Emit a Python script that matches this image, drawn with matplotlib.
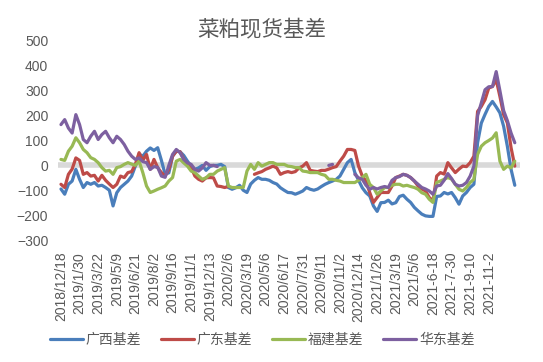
import numpy as np
import matplotlib
matplotlib.use("Agg")
import matplotlib.pyplot as plt

plt.rcParams['font.family'] = ['Liberation Sans', 'Noto Sans CJK SC']

nan = np.nan

# tick labels (one every 5 points)
tick_labels = ["2018/12/18", "2019/1/30", "2019/3/22", "2019/5/9", "2019/6/21",
               "2019/8/2", "2019/9/16", "2019/11/1", "2019/12/13", "2020/2/6",
               "2020/3/19", "2020/5/6", "2020/6/17", "2020/7/31", "2020/9/11",
               "2020/11/2", "2020/12/14", "2021/1/26", "2021/3/19", "2021/5/6",
               "2021-6-18", "2021-7-30", "2021-9-10", "2021-11-2"]

guangxi = [-95, -116, -76, -63, -16, -56, -89, -69, -76, -69,
           -83, -80, -89, -100, -163, -110, -89, -76, -63, -43,
           -3, 45, 37, 57, 70, 60, 71, 20, -36, -30,
           37, 57, 55, 40, 17, -3, -16, -10, 0, -20,
           -5, 0, 0, 4, -5, -89, -96, -90, -80, -100,
           -109, -75, -60, -49, -56, -56, -60, -69, -75, -90,
           -100, -109, -110, -116, -110, -103, -89, -96, -100, -95,
           -85, -76, -69, -63, -56, -43, -16, 11, 24, -29,
           -60, -90, -110, -123, -163, -185, -150, -149, -140, -155,
           -150, -125, -120, -136, -149, -169, -183, -196, -203, -205,
           -205, -125, -123, -109, -115, -109, -130, -156, -123, -109,
           -89, -76, 91, 170, 205, 237, 257, 235, 211, 157,
           77, -16, -80]

guangdong = [-76, -89, -36, -15, 30, 20, -36, -29, -43, -40,
             -63, -40, -60, -75, -89, -76, -43, -49, -29, -25,
             4, 51, 20, 44, -16, 24, -9, -29, -43, -16,
             37, 57, 55, 25, 0, -9, -43, -56, -63, -50,
             -49, -50, -83, -85, -89, -85, nan, nan, nan, nan,
             nan, nan, -36, -30, -25, -16, -10, -3, -10, -36,
             -29, -25, -29, -25, -10, -3, 11, -20, -23, -25,
             -20, -20, -15, -9, -5, 17, 37, 64, 64, 60,
             -3, -43, -63, -109, -149, -129, -109, -109, -109, -83,
             -49, -43, -36, -40, -49, -63, -83, -95, -103, -129,
             -143, -43, -29, -35, 11, -10, -29, -15, -3, -5,
             11, 37, 217, 237, 264, 311, 317, 344, 277, 204,
             171, 71, -3]

fujian = [24, 20, 57, 77, 111, 91, 64, 51, 31, 24,
          11, -9, -23, -20, -36, -9, -5, 4, 11, 5,
          0, 17, -29, -83, -109, -103, -96, -90, -83, -63,
          -49, 17, 24, 10, -3, -23, -29, -43, -56, -50,
          -36, -36, -23, -16, -9, -83, -89, -89, -89, -89,
          -23, 4, -16, 11, -3, 4, 11, 11, 4, 4,
          4, -3, -5, -9, -9, -23, -25, -29, -29, -29,
          -36, -40, -56, -56, -60, -63, -69, -69, -69, -69,
          -60, -49, -36, -76, -89, -116, -103, -89, -89, -80,
          -76, -76, -83, -80, -85, -89, -96, -110, -116, -136,
          -149, -69, -63, -56, -49, -55, -76, -96, -103, -89,
          -69, -56, 44, 77, 91, 100, 110, 131, 17, -16,
          -3, -10, 17]

huadong = [164, 184, 150, 130, 204, 164, 104, 91, 117, 137,
           104, 124, 137, 111, 91, 117, 104, 84, 57, 37,
           24, 30, 15, 11, -16, -5, -8, -43, -48, 0,
           44, 64, 51, 24, 10, 4, -16, -23, -10, 11,
           0, 0, -5, nan, nan, nan, nan, nan, nan, nan,
           nan, nan, nan, nan, nan, nan, nan, nan, nan, nan,
           nan, nan, nan, nan, nan, nan, nan, nan, nan, nan,
           nan, nan, 0, 4, nan, nan, nan, nan, nan, -36,
           -50, -56, -80, -96, -89, -95, -89, -85, -89, -60,
           -49, -45, -36, -40, -49, -63, -76, -89, -95, -103,
           -116, -83, -80, -60, -33, -53, -76, -83, -80, -69,
           -43, -3, 200, 251, 304, 316, 317, 377, 300, 220,
           180, 130, 91]

series = [("广西基差", guangxi, "#4A7EBB"),
          ("广东基差", guangdong, "#BE4B48"),
          ("福建基差", fujian, "#98B954"),
          ("华东基差", huadong, "#7D60A0")]

fig = plt.figure(figsize=(5.43, 3.62), dpi=100)
ax = fig.add_axes([58 / 543, 1 - 240 / 362, 462 / 543, 199 / 362])

ax.axhline(0, color="#D9D9D9", lw=4, zorder=1)
for name, vals, col in series:
    x = np.arange(len(vals))
    ax.plot(x, vals, color=col, lw=2.3, label=name, zorder=2,
            solid_joinstyle="round", solid_capstyle="round")

ax.set_xlim(-0.8, 123.4)
ax.set_ylim(-300, 500)
ax.set_yticks(range(-300, 501, 100))
ax.set_xticks(np.arange(len(tick_labels)) * 5)
ax.set_xticklabels(tick_labels, rotation=90)
ax.tick_params(axis="x", length=0, pad=8.5, labelsize=10, labelcolor="#595959")
ax.tick_params(axis="y", length=0, pad=7, labelsize=10, labelcolor="#595959")
for s in ax.spines.values():
    s.set_visible(False)

fig.text(262 / 543, 1 - 29 / 362, "菜粕现货基差", ha="center", va="center",
         fontsize=15.5, color="#595959", family=["Noto Sans CJK SC"],
         fontweight="light")

fig.legend(loc="center", bbox_to_anchor=(262 / 543, 1 - 340 / 362), ncol=4,
           frameon=False, handlelength=2.4, handletextpad=0.2,
           columnspacing=1.4, labelcolor="#595959",
           prop={"family": ["Noto Sans CJK SC"], "size": 10})

fig.savefig("out.png", dpi=100)
